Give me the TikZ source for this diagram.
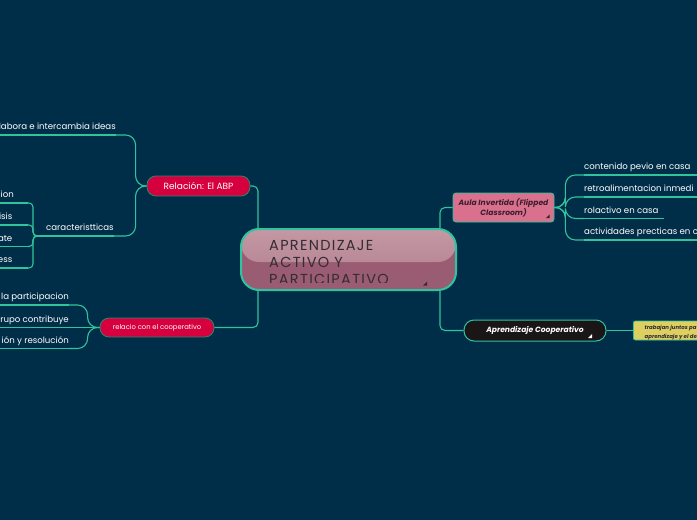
\documentclass[tikz,border=0pt]{standalone}
\usepackage{fontspec}
\setmainfont{Poppins}
\usetikzlibrary{calc}
\definecolor{bg}{RGB}{0,46,72}
\definecolor{tealc}{RGB}{48,196,158}
\definecolor{redn}{RGB}{214,0,62}
\definecolor{pinkn}{RGB}{216,112,142}
\definecolor{ctop}{RGB}{196,152,164}
\definecolor{cmid}{RGB}{176,124,140}
\definecolor{cbot}{RGB}{154,92,114}
\definecolor{ctext}{RGB}{52,44,52}
\definecolor{darkn}{RGB}{26,22,24}
\definecolor{yel}{RGB}{222,208,96}
\definecolor{aulatext}{RGB}{60,30,45}
\begin{document}
\begin{tikzpicture}[x=1pt,y=-1pt,
  conn/.style={draw=tealc, line width=1.1pt, rounded corners=5pt},
  bigconn/.style={draw=tealc, line width=1.1pt, rounded corners=10pt},
  uline/.style={draw=tealc, line width=1.1pt},
  subtxt/.style={font=\fontsize{8.6}{10}\selectfont, text=white, inner xsep=0pt, inner ysep=0pt, text height=6pt, text depth=5pt},
  pill/.style={draw=tealc!70!black, line width=0.8pt, rounded corners=9pt, text=white, inner sep=0pt},
]
\fill[bg] (0,0) rectangle (697,520);
\useasboundingbox (0,0) rectangle (697,520);
\coordinate (xL) at (0,0);
\coordinate (xR) at (700,0);
\coordinate (xlc) at (258,0);
\coordinate (xrc) at (440,0);

% central node
\node[draw=tealc, line width=2pt, rounded corners=18pt, minimum width=215pt, minimum height=61pt, inner sep=0pt,
  fill=cbot,
  path picture={\shade[top color=ctop, bottom color=cmid] (path picture bounding box.north west) rectangle ([yshift=-33pt]path picture bounding box.north east);}
  ] (c) at (348.5,259.5) {};
\begin{scope}
\clip (244,232) rectangle (453,282.5);
\node[anchor=north west, inner sep=0pt, align=left, text=ctext, font=\fontsize{14.5}{17}\selectfont\addfontfeature{LetterSpace=9}] (ct) at (269,240) {APRENDIZAJE\\ACTIVO Y\\PARTICIPATIVO};
\end{scope}
\fill[ctext] (423,285.5) -- (427,285.5) -- (427,281.5) -- cycle;

% main branches
\node[pill, fill=redn, minimum width=103pt, minimum height=20pt, font=\fontsize{9}{10}\selectfont] (abp) at (198.5,186) {Relación: El ABP};
\node[pill, fill=redn, minimum width=114pt, minimum height=19pt, font=\fontsize{6.8}{8}\selectfont] (rel) at (157,327.5) {relacio con el cooperativo};
\node[draw=tealc, line width=0.8pt, rounded corners=3pt, fill=pinkn, minimum width=101pt, minimum height=29pt, inner sep=0pt, align=center, text=aulatext, font=\fontsize{7.6}{10}\selectfont\bfseries\itshape] (aula) at (503.5,207.5) {Aula Invertida (Flipped\\Classroom)};
\fill[aulatext] (546,218) -- (549.5,218) -- (549.5,214.5) -- cycle;
\node[draw=tealc, line width=1pt, rounded corners=10pt, fill=darkn, minimum width=142pt, minimum height=21pt, inner sep=0pt, text=white, font=\fontsize{7.6}{9}\selectfont\bfseries\itshape] (coop) at (535,330.5) {Aprendizaje Cooperativo\hspace{8pt}};
\fill[white] (588,338) -- (592,338) -- (592,334) -- cycle;
\node[draw=tealc, line width=0.8pt, rounded corners=2pt, fill=yel, minimum width=80pt, minimum height=19pt, inner sep=0pt, anchor=west,
  path picture={\node[anchor=north west, inner sep=0pt, align=left, text=ctext, font=\fontsize{5.4}{9}\selectfont\bfseries\itshape] (yt) at ([xshift=-3pt,yshift=-2pt]path picture bounding box.north west) {trabajan juntos pa\\aprendizaje y el de};}
  ] (yel) at (633,330.5) {};

% central connectors
\draw[conn] (abp.east) -| (c.north west -| xlc);
\draw[conn] (c.south west -| xlc) |- (rel.east);
\draw[conn] (aula.west) -| (c.north east -| xrc);
\draw[conn] (c.south east -| xrc) |- (coop.west);
\draw[uline] (coop.east) -- (yel.west);

% right children of Aula
\node[subtxt, anchor=south west] (r1) at (584,175) {contenido pevio en casa};
\node[subtxt, anchor=south west] (r2) at (584,197) {retroalimentacion inmedi};
\node[subtxt, anchor=south west] (r3) at (584,218.5) {rolactivo en casa};
\node[subtxt, anchor=south west] (r4) at (584,240) {actividades precticas en c};
\foreach \n in {r1,r2,r4}{
  \draw[bigconn] (aula.east) -- ++(11,0) |- (\n.south west);
  \draw[uline] (\n.south west) -- (\n.south -| xR);
}
\draw[bigconn] (aula.east) -- ++(11,0) |- (r3.south west);
\draw[uline] (r3.south west) -- ([xshift=5pt]r3.south east);

% left children of ABP
\node[subtxt, anchor=south east] (l1) at (116,135) {labora e intercambia ideas};
\node[subtxt, anchor=south west] (car) at (46,236) {caracteristticas};
\draw[bigconn] (abp.west) -- ++(-11,0) |- (l1.south east);
\draw[uline] (l1.south east) -- (l1.south -| xL);
\draw[bigconn] (abp.west) -- ++(-11,0) |- (car.south east);
\draw[uline] (car.south east) -- ([xshift=-6pt]car.south west);

% children of caracteristticas
\node[subtxt, anchor=south east] (k1) at (14,203) {ion};
\node[subtxt, anchor=south east] (k2) at (12.5,225) {isis};
\node[subtxt, anchor=south east] (k3) at (12.5,246.5) {ate};
\node[subtxt, anchor=south east] (k4) at (12.5,268) {ess};
\foreach \n in {k1,k2,k3,k4}{
  \draw[conn, rounded corners=4pt] ([xshift=-6pt]car.south west) -- ++(-7,0) |- (\n.south -| 28,0);
  \draw[uline] (\n.south -| 28,0) -- (\n.south -| xL);
}

% children of relacio
\node[subtxt, anchor=south east] (p1) at (69,305) {la participacion};
\node[subtxt, anchor=south east] (p2) at (69,327.5) {rupo contribuye};
\node[subtxt, anchor=south east] (p3) at (69,348.5) {ión y resolución};
\draw[bigconn] (rel.west) -- ++(-12,0) |- (p1.south east);
\draw[bigconn] (rel.west) -- ++(-12,0) |- (p3.south east);
\draw[uline] (rel.west) -- (p2.south east);
\foreach \n in {p1,p2,p3}{
  \draw[uline] (\n.south east) -- (\n.south -| xL);
}
\end{tikzpicture}
\end{document}
